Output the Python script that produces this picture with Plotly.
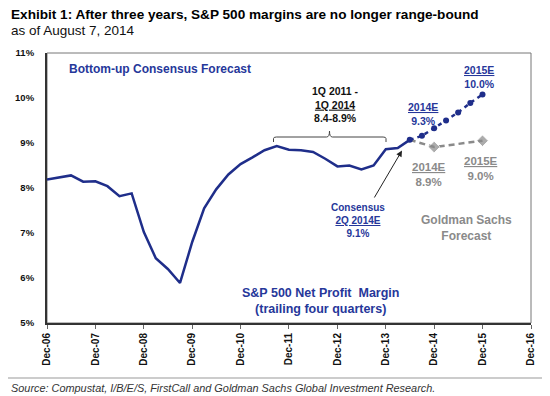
import plotly.graph_objects as go

# ---- data ----
hist_dates = ["2006-12-31", "2007-03-31", "2007-06-30", "2007-09-30", "2007-12-31",
              "2008-03-31", "2008-06-30", "2008-09-30", "2008-12-31",
              "2009-03-31", "2009-06-30", "2009-09-30", "2009-12-31",
              "2010-03-31", "2010-06-30", "2010-09-30", "2010-12-31",
              "2011-03-31", "2011-06-30", "2011-09-30", "2011-12-31",
              "2012-03-31", "2012-06-30", "2012-09-30", "2012-12-31",
              "2013-03-31", "2013-06-30", "2013-09-30", "2013-12-31",
              "2014-03-31", "2014-06-30"]
hist_margin = [8.19, 8.24, 8.28, 8.14, 8.15,
               8.04, 7.82, 7.88, 7.02,
               6.44, 6.20, 5.89, 6.80,
               7.55, 7.97, 8.30, 8.53,
               8.68, 8.84, 8.93, 8.85,
               8.84, 8.80, 8.65, 8.48,
               8.50, 8.41, 8.50, 8.86,
               8.89, 9.07]

cons_dates = ["2014-06-30", "2014-09-30", "2014-12-31", "2015-03-31",
              "2015-06-30", "2015-09-30", "2015-12-31"]
cons_margin = [9.07, 9.16, 9.33, 9.50, 9.68, 9.89, 10.08]

gs_dates = ["2014-06-30", "2014-12-31", "2015-12-31"]
gs_margin = [9.07, 8.91, 9.05]

tick_dates = ["2006-12-31", "2007-12-31", "2008-12-31", "2009-12-31", "2010-12-31",
              "2011-12-31", "2012-12-31", "2013-12-31", "2014-12-31", "2015-12-31",
              "2016-12-31"]
tick_labels = ["Dec-06", "Dec-07", "Dec-08", "Dec-09", "Dec-10", "Dec-11",
               "Dec-12", "Dec-13", "Dec-14", "Dec-15", "Dec-16"]
y_ticks = [5, 6, 7, 8, 9, 10, 11]

BLUE = "#1f2e8a"
TBLUE = "#26379a"
GREY = "#8a8a8a"
FONT = "Arial, Liberation Sans, sans-serif"

# The page body has an 8px margin, so the figure is drawn 8px smaller and
# all positions below are given in page pixels of the 550x396 window.
OFF = 8
W, H = 550 - OFF, 396 - OFF
L, T, R, B = 47, 53, 531, 323          # plot area in page pixels

fig = go.Figure()

fig.add_trace(go.Scatter(x=gs_dates, y=gs_margin, mode="lines+markers",
                         line=dict(color=GREY, width=2.5, dash="6px,4px"),
                         marker=dict(symbol="diamond", size=[0, 9, 9], color=GREY),
                         showlegend=False, hoverinfo="skip"))
fig.add_trace(go.Scatter(x=cons_dates, y=cons_margin, mode="lines+markers",
                         line=dict(color=BLUE, width=2.5, dash="4px,4px"),
                         marker=dict(symbol="circle", size=6, color=BLUE),
                         showlegend=False, hoverinfo="skip"))
fig.add_trace(go.Scatter(x=hist_dates, y=hist_margin, mode="lines",
                         line=dict(color=BLUE, width=2.5),
                         showlegend=False, hoverinfo="skip"))


def px(xp):
    return (xp - L) / float(R - L)


def py(yp):
    return (B - yp) / float(B - T)


# brace over 1Q 2011 - 1Q 2014
xa, xm, xb = px(273.5), px(329.5), px(386)
yl, yh, yt = py(142), py(137), py(131)
d = 0.006
fig.add_shape(type="path", xref="paper", yref="paper",
              path=(f"M {xa} {yl} L {xa} {yh - 0.006} Q {xa} {yh} {xa + d} {yh} "
                    f"L {xm - d} {yh} Q {xm} {yh} {xm} {yt} Q {xm} {yh} {xm + d} {yh} "
                    f"L {xb - d} {yh} Q {xb} {yh} {xb} {yh - 0.006} L {xb} {yl}"),
              line=dict(color="#444", width=1))

# frame (top/right grey)
fig.add_shape(type="rect", xref="paper", yref="paper", x0=0, y0=0, x1=1, y1=1,
              line=dict(color="#777", width=1), layer="below")

fig.update_layout(
    width=W, height=H,
    margin=dict(l=L - OFF, r=550 - R, t=T - OFF, b=396 - B, autoexpand=False),
    paper_bgcolor="white", plot_bgcolor="white",
    font=dict(family=FONT, color="#000"),
    xaxis=dict(type="date", range=["2006-12-31", "2016-12-31"],
               tickmode="array", tickvals=tick_dates, ticktext=tick_labels,
               tickangle=-90, tickfont=dict(size=10, family=FONT, color="#111", weight="bold"),
               showgrid=False, zeroline=False, automargin=False,
               showline=True, linecolor="#333", linewidth=2,
               ticks="outside", ticklen=4, tickcolor="#666", tickwidth=1),
    yaxis=dict(range=[5, 11], tickmode="array", tickvals=y_ticks,
               ticktext=[f"{v}%" for v in y_ticks],
               tickfont=dict(size=9.5, family=FONT, color="#111", weight="bold"),
               showgrid=False, zeroline=False, automargin=False,
               showline=True, linecolor="#333", linewidth=2,
               ticks="", ticklabelstandoff=9),
)


def ann(x, y, text, color, size=10, bold=True, italic=False, xanchor="center"):
    fig.add_annotation(xref="paper", yref="paper", x=px(x), y=py(y), text=text,
                       showarrow=False, xanchor=xanchor, yanchor="middle",
                       align="left" if xanchor == "left" else "center",
                       font=dict(family=FONT, size=size, color=color,
                                 weight="bold" if bold else "normal",
                                 style="italic" if italic else "normal"))


ann(160, 69, "Bottom-up Consensus Forecast", TBLUE, size=12)
ann(335, 104, "1Q 2011 -<br><u>1Q 2014</u><br>8.4-8.9%", "#111", size=10.5)
ann(423, 114, "<u>2014E</u><br>9.3%", TBLUE, size=10.5)
ann(479, 77, "<u>2015E</u><br>10.0%", TBLUE, size=10.5)
ann(429, 174, "<u>2014E</u><br>8.9%", GREY, size=11.5)
ann(481, 168, "<u>2015E</u><br>9.0%", GREY, size=11.5)
ann(358, 220, "Consensus<br><u>2Q 2014E</u><br>9.1%", TBLUE, size=10)
ann(466, 228, "Goldman Sachs<br>Forecast", GREY, size=12)
ann(320, 300.5, "S&amp;P 500 Net Profit&nbsp; Margin<br>(trailing four quarters)", TBLUE, size=12.5)

# arrow to 2Q 2014E
fig.add_annotation(xref="paper", yref="paper",
                   x=px(402), y=py(150.5), ax=-28.5, ay=48.5,
                   showarrow=True, arrowhead=2, arrowsize=1.2, arrowwidth=1,
                   arrowcolor="#222", text="")

# title, subtitle, source (left edge of the visible figure)
TX = OFF + 1
ann(TX, 15, "Exhibit 1: After three years, S&amp;P 500 margins are no longer range-bound",
    "#000", size=13.6, xanchor="left")
ann(TX, 30.5, "as of August 7, 2014", "#111", size=13.5, bold=False, xanchor="left")
ann(TX, 388, "Source: Compustat, I/B/E/S, FirstCall and Goldman Sachs Global Investment Research.",
    "#333", size=10.9, bold=False, italic=True, xanchor="left")
fig.add_shape(type="line", xref="paper", yref="paper", x0=px(OFF), x1=px(550),
              y0=py(378), y1=py(378), line=dict(color="#999", width=1))

fig.write_html("out.html")
